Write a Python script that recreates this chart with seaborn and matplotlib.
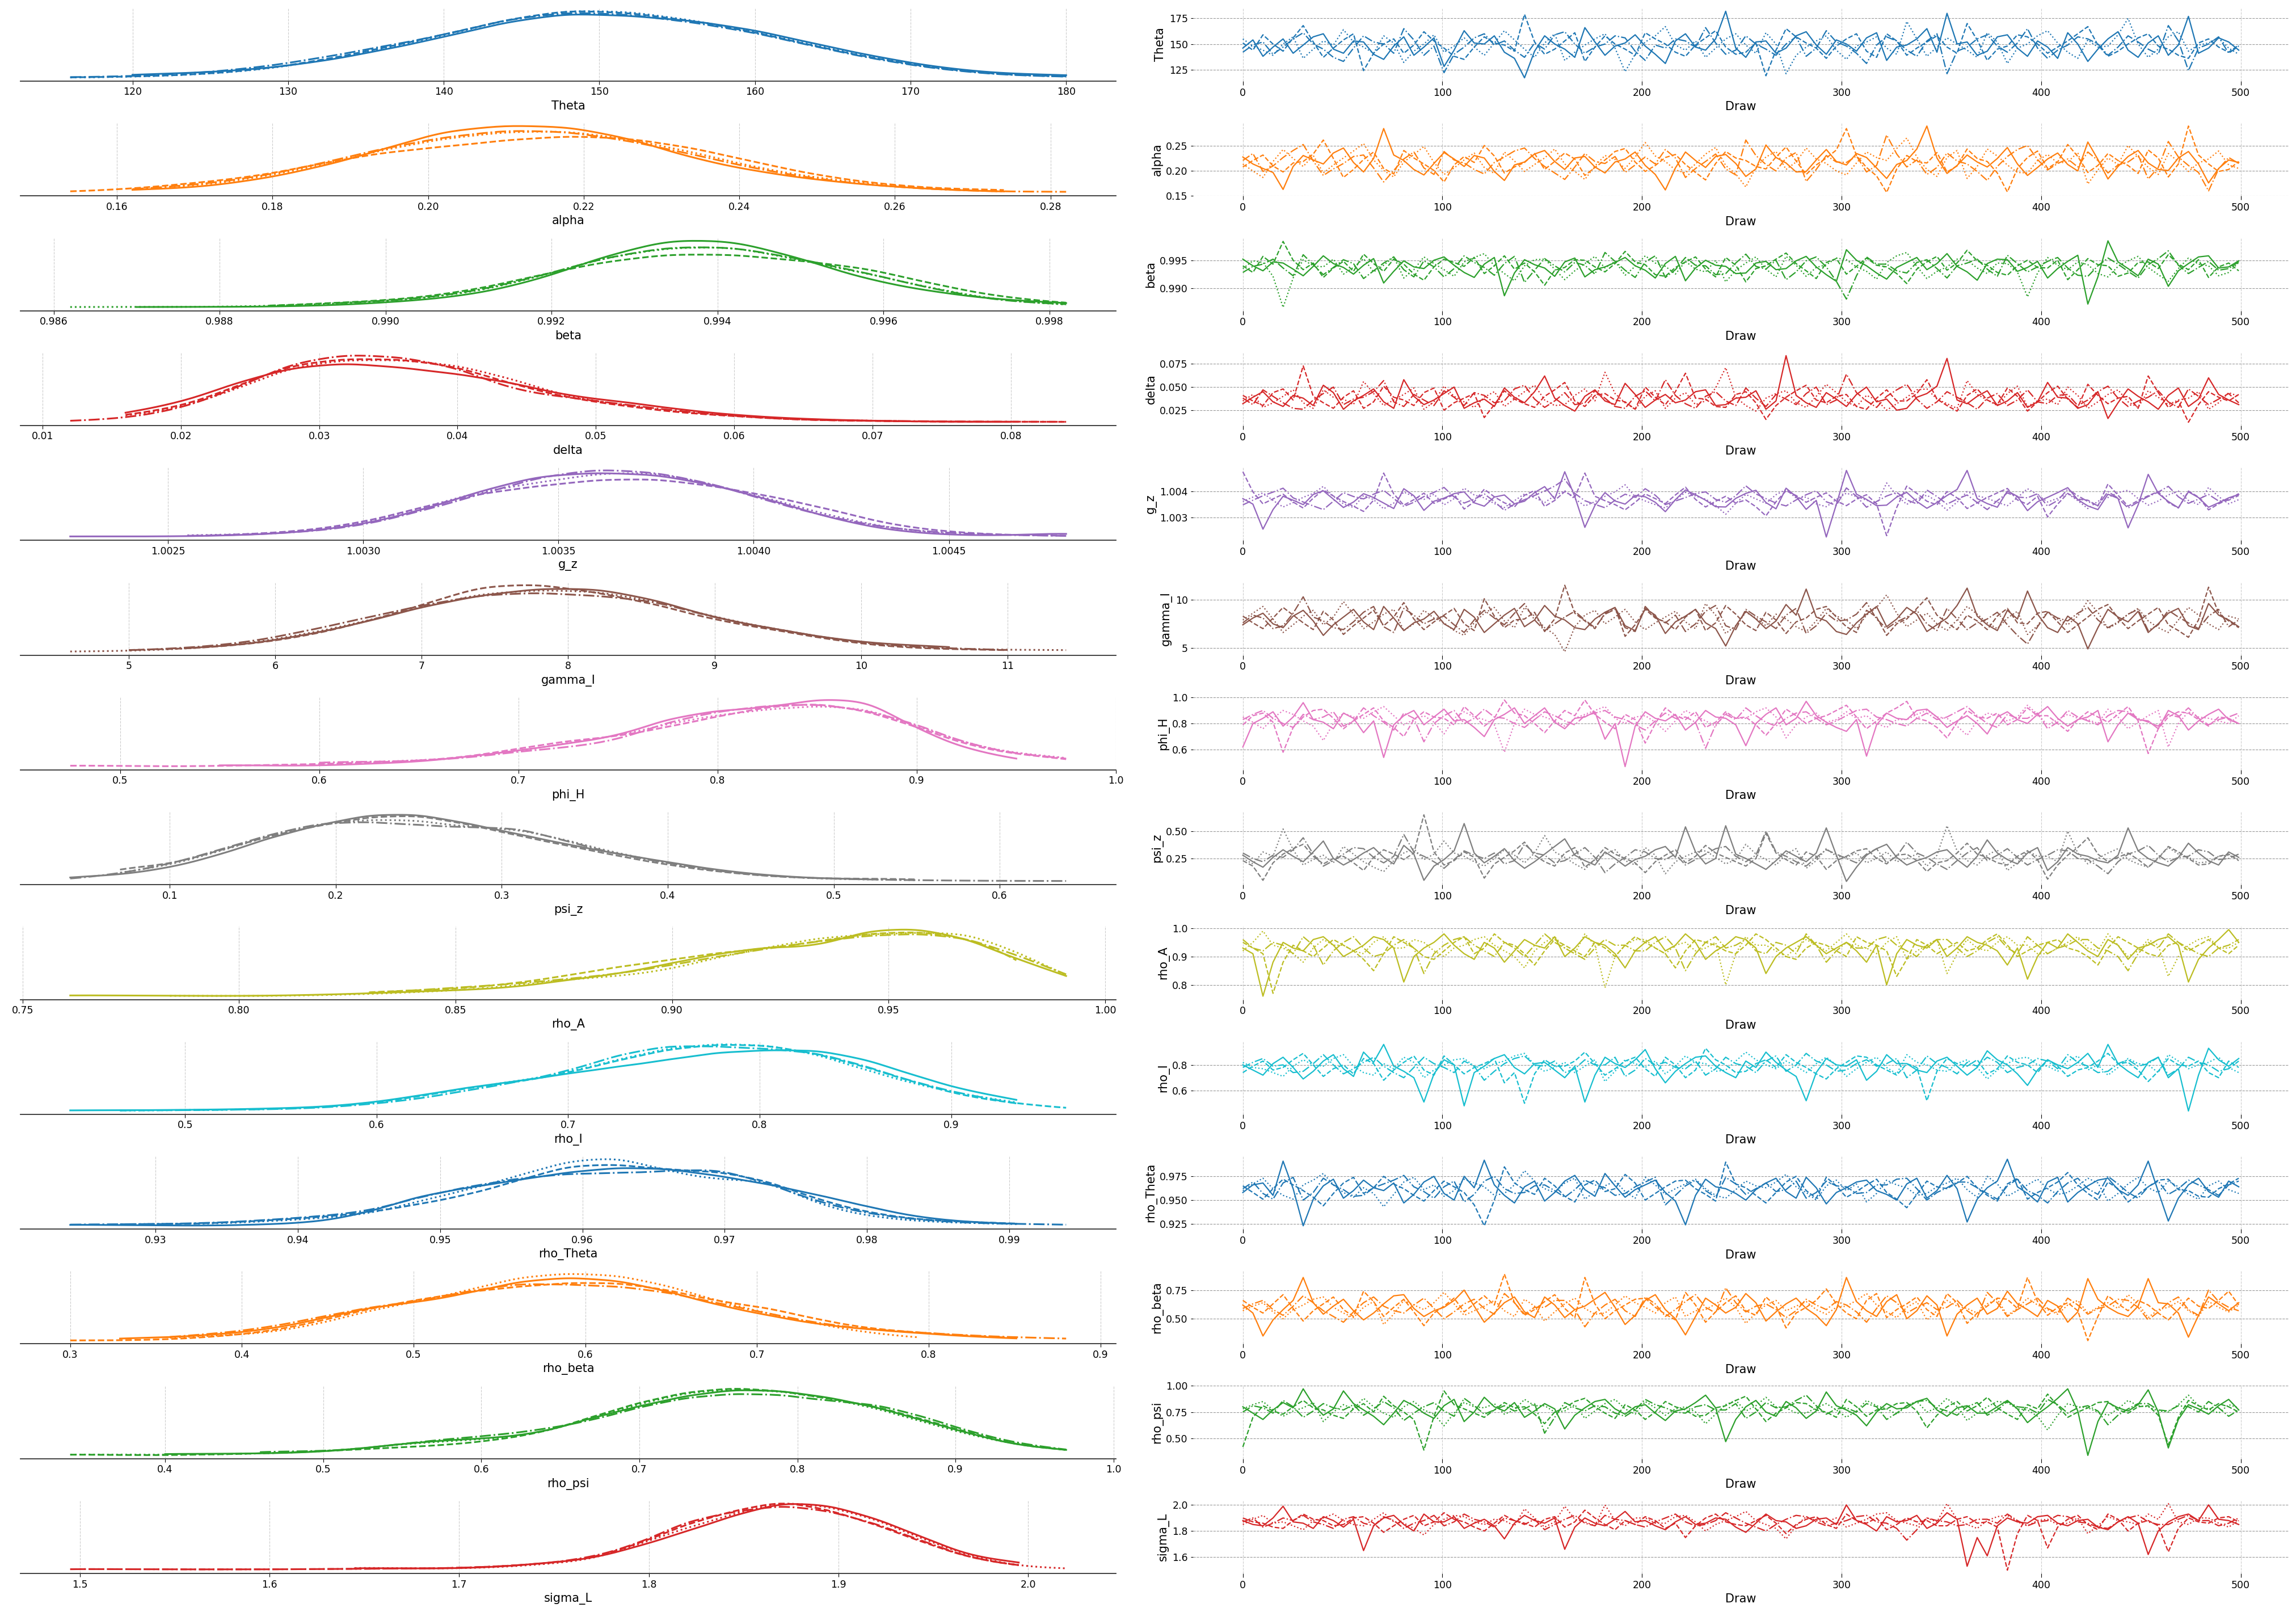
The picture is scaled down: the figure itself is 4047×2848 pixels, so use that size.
import numpy as np
import matplotlib
matplotlib.use("Agg")
import matplotlib.pyplot as plt
from matplotlib.ticker import MaxNLocator
import seaborn as sns

# --- Parameters (rows) and chain line styles ---
param_names = ["Theta", "alpha", "beta", "delta", "g_z", "gamma_I", "phi_H",
               "psi_z", "rho_A", "rho_I", "rho_Theta", "rho_beta", "rho_psi", "sigma_L"]
chain_styles = ["-", "--", ":", "-."]
draw_ticks = [0, 100, 200, 300, 400, 500]

# --- Y ticks of the trace panels ---
trace_yticks = [[125, 150, 175], [0.15, 0.20, 0.25], [0.990, 0.995], [0.025, 0.050, 0.075],
                [1.003, 1.004], [5, 10], [0.6, 0.8, 1.0], [0.25, 0.50], [0.8, 0.9, 1.0],
                [0.6, 0.8], [0.925, 0.950, 0.975], [0.50, 0.75], [0.50, 0.75, 1.00],
                [1.6, 1.8, 2.0]]

# --- KDE readings: grid of x values, relative density per chain (0 = chain not present) ---
theta_grid = [116, 120, 124, 128, 132, 136, 140, 144, 148, 152, 156, 160, 164, 168, 172, 176, 180]
theta_kde = [[0, 16, 24, 42, 78, 135, 200, 275, 320, 305, 282, 236, 165, 100, 48, 20, 14],
             [2, 6, 16, 40, 88, 152, 222, 300, 352, 335, 295, 236, 160, 95, 45, 15, 8],
             [1, 5, 16, 38, 84, 148, 215, 296, 346, 338, 293, 236, 162, 95, 45, 15, 6],
             [3, 8, 24, 52, 102, 162, 222, 305, 345, 330, 290, 236, 160, 92, 43, 14, 6]]

alpha_grid = [0.154, 0.162, 0.170, 0.178, 0.186, 0.194, 0.202, 0.210, 0.218, 0.226, 0.234,
              0.242, 0.250, 0.258, 0.266, 0.274, 0.282]
alpha_kde = [[0, 15, 25, 65, 130, 220, 320, 348, 342, 280, 175, 110, 65, 35, 15, 5, 0],
             [5, 20, 50, 85, 150, 210, 240, 275, 298, 285, 235, 160, 90, 45, 20, 15, 0],
             [0, 17, 35, 75, 140, 220, 280, 315, 320, 275, 210, 130, 75, 40, 17, 5, 0],
             [0, 17, 40, 80, 150, 230, 290, 328, 320, 270, 200, 125, 70, 35, 15, 5, 5]]

beta_grid = [0.9862, 0.9870, 0.9878, 0.9886, 0.9894, 0.9902, 0.9910, 0.9918, 0.9926, 0.9934,
             0.9942, 0.9950, 0.9958, 0.9966, 0.9974, 0.9982]
beta_kde = [[0, 2, 2, 3, 9, 24, 49, 109, 209, 284, 279, 204, 114, 64, 31, 19],
            [0, 0, 0, 7, 19, 34, 69, 134, 194, 229, 227, 199, 169, 99, 44, 19],
            [2, 2, 2, 6, 16, 31, 59, 124, 209, 254, 259, 199, 144, 79, 29, 11],
            [0, 0, 0, 0, 19, 31, 64, 129, 214, 264, 264, 209, 149, 79, 27, 14]]

delta_grid = [0.012, 0.016, 0.020, 0.024, 0.028, 0.032, 0.036, 0.040, 0.044, 0.048, 0.052,
              0.056, 0.060, 0.064, 0.068, 0.072, 0.076, 0.080, 0.084]
delta_kde = [[0, 42, 87, 177, 247, 267, 245, 217, 177, 117, 92, 57, 32, 17, 9, 4, 2, 2, 0],
             [0, 32, 67, 157, 257, 282, 279, 247, 167, 107, 72, 42, 27, 12, 7, 4, 2, 2, 2],
             [0, 30, 65, 150, 255, 287, 285, 262, 197, 115, 78, 45, 28, 14, 8, 6, 0, 0, 0],
             [5, 17, 57, 147, 257, 295, 282, 237, 137, 107, 77, 47, 27, 12, 7, 5, 3, 2, 2]]

g_z_grid = [1.00225, 1.00240, 1.00255, 1.00270, 1.00285, 1.00300, 1.00315, 1.00330, 1.00345,
            1.00360, 1.00375, 1.00390, 1.00405, 1.00420, 1.00435, 1.00450, 1.00465, 1.00480]
g_z_kde = [[3, 2, 3, 8, 21, 51, 111, 191, 256, 268, 261, 216, 151, 76, 26, 8, 6, 18],
           [0, 0, 4, 11, 26, 61, 126, 186, 216, 244, 248, 216, 171, 116, 51, 21, 8, 6],
           [0, 0, 8, 10, 24, 56, 121, 191, 226, 266, 271, 216, 156, 86, 36, 11, 0, 0],
           [0, 0, 5, 9, 21, 48, 111, 181, 256, 291, 276, 226, 146, 81, 36, 16, 8, 5]]

gamma_I_grid = [4.6, 5.0, 5.4, 5.8, 6.2, 6.6, 7.0, 7.4, 7.8, 8.2, 8.6, 9.0, 9.4, 9.8, 10.2,
                10.6, 11.0, 11.4]
gamma_I_kde = [[0, 0, 16, 31, 71, 126, 196, 246, 276, 276, 226, 146, 101, 56, 31, 23, 0, 0],
               [0, 8, 13, 31, 66, 126, 201, 286, 294, 256, 206, 136, 96, 51, 21, 11, 8, 0],
               [1, 4, 13, 34, 76, 131, 196, 256, 271, 266, 221, 151, 101, 56, 26, 14, 8, 9],
               [0, 6, 16, 38, 86, 141, 196, 241, 251, 236, 216, 141, 98, 54, 26, 14, 8, 0]]

phi_H_grid = [0.475, 0.500, 0.525, 0.550, 0.575, 0.600, 0.625, 0.650, 0.675, 0.700, 0.725,
              0.750, 0.775, 0.800, 0.825, 0.850, 0.875, 0.900, 0.925, 0.950, 0.975]
phi_H_kde = [[0, 0, 0, 7, 4, 4, 12, 20, 42, 67, 97, 127, 202, 236, 247, 284, 282, 157, 72, 32, 0],
             [5, 3, 1, 3, 7, 11, 18, 25, 43, 78, 113, 131, 173, 218, 261, 278, 243, 173, 93, 53, 35],
             [0, 0, 0, 0, 0, 20, 20, 28, 41, 68, 108, 138, 193, 233, 258, 275, 263, 183, 103, 58, 43],
             [0, 0, 0, 0, 0, 20, 20, 25, 38, 65, 83, 113, 193, 238, 263, 271, 243, 183, 98, 53, 38]]

psi_z_grid = [0.04, 0.07, 0.10, 0.13, 0.16, 0.19, 0.22, 0.25, 0.28, 0.31, 0.34, 0.37, 0.40,
              0.43, 0.46, 0.49, 0.52, 0.55, 0.58, 0.61, 0.64]
psi_z_kde = [[18, 28, 58, 113, 188, 243, 288, 290, 248, 203, 158, 118, 83, 48, 26, 13, 10, 0, 0, 0, 0],
             [0, 60, 73, 138, 203, 248, 288, 296, 253, 203, 158, 113, 73, 43, 23, 13, 12, 10, 0, 0, 0],
             [0, 38, 68, 128, 193, 243, 263, 260, 228, 223, 173, 118, 78, 43, 23, 12, 8, 6, 0, 0, 0],
             [10, 33, 73, 133, 198, 248, 253, 238, 228, 228, 168, 113, 78, 43, 23, 13, 8, 5, 3, 2, 2]]

rho_A_grid = [0.761, 0.7725, 0.784, 0.7955, 0.807, 0.8185, 0.830, 0.8415, 0.853, 0.8645, 0.876,
              0.8875, 0.899, 0.9105, 0.922, 0.9335, 0.945, 0.9565, 0.968, 0.9795, 0.991]
rho_A_kde = [[4, 3, 2, 1, 2, 6, 12, 20, 27, 40, 70, 95, 138, 182, 212, 210, 284, 292, 249, 158, 90],
             [0, 0, 0, 0, 0, 0, 18, 24, 34, 55, 86, 122, 148, 180, 198, 226, 260, 269, 244, 162, 0],
             [0, 0, 2, 1, 1, 4, 9, 17, 27, 45, 70, 82, 108, 160, 200, 240, 255, 262, 262, 184, 86],
             [0, 0, 0, 0, 0, 0, 14, 26, 40, 54, 74, 96, 130, 170, 204, 234, 260, 269, 252, 176, 96]]

rho_I_grid = [0.440, 0.466, 0.492, 0.518, 0.544, 0.570, 0.596, 0.622, 0.648, 0.674, 0.700,
              0.726, 0.752, 0.778, 0.804, 0.830, 0.856, 0.882, 0.908, 0.934, 0.960]
rho_I_kde = [[3, 3, 4, 6, 10, 16, 33, 63, 98, 123, 155, 183, 211, 243, 251, 253, 213, 143, 83, 48, 0],
             [0, 3, 3, 5, 8, 15, 33, 63, 103, 128, 168, 223, 273, 295, 291, 253, 193, 123, 63, 33, 13],
             [0, 3, 3, 5, 8, 15, 33, 63, 100, 128, 165, 220, 270, 288, 283, 243, 173, 113, 68, 38, 0],
             [0, 3, 3, 5, 7, 13, 28, 51, 88, 123, 168, 238, 278, 273, 263, 248, 188, 118, 68, 31, 0]]

rho_Theta_grid = [0.9240, 0.9275, 0.9310, 0.9345, 0.9380, 0.9415, 0.9450, 0.9485, 0.9520,
                  0.9555, 0.9590, 0.9625, 0.9660, 0.9695, 0.9730, 0.9765, 0.9800, 0.9835,
                  0.9870, 0.9905, 0.9940]
rho_Theta_kde = [[5, 3, 1, 1, 6, 16, 56, 126, 161, 193, 226, 246, 241, 211, 176, 131, 81, 36, 16, 8, 0],
                 [0, 8, 6, 12, 23, 36, 56, 91, 131, 191, 256, 261, 236, 231, 191, 111, 56, 26, 16, 10, 0],
                 [0, 6, 8, 10, 20, 32, 50, 106, 156, 216, 281, 298, 236, 196, 201, 91, 41, 20, 12, 8, 0],
                 [6, 6, 8, 13, 25, 40, 61, 121, 166, 201, 221, 223, 231, 243, 181, 101, 51, 26, 12, 8, 5]]

rho_beta_grid = [0.300, 0.329, 0.358, 0.387, 0.416, 0.445, 0.474, 0.503, 0.532, 0.561, 0.590,
                 0.619, 0.648, 0.677, 0.706, 0.735, 0.764, 0.793, 0.822, 0.851, 0.880]
rho_beta_kde = [[0, 11, 16, 31, 56, 106, 166, 191, 236, 296, 316, 301, 246, 176, 126, 81, 56, 38, 21, 11, 0],
                [1, 1, 6, 21, 46, 96, 161, 206, 246, 271, 291, 291, 256, 196, 166, 106, 61, 41, 24, 14, 0],
                [0, 0, 16, 26, 41, 86, 156, 206, 261, 331, 351, 341, 286, 206, 141, 86, 41, 16, 0, 0, 0],
                [0, 0, 18, 36, 66, 116, 166, 196, 246, 286, 278, 271, 241, 186, 136, 86, 56, 41, 26, 16, 11]]

rho_psi_grid = [0.34, 0.37, 0.40, 0.43, 0.46, 0.49, 0.52, 0.55, 0.58, 0.61, 0.64, 0.67, 0.70,
                0.73, 0.76, 0.79, 0.82, 0.85, 0.88, 0.91, 0.94, 0.97]
rho_psi_kde = [[0, 0, 8, 8, 10, 15, 32, 60, 80, 90, 120, 195, 255, 310, 342, 335, 300, 250, 180, 110, 50, 30],
               [5, 2, 1, 5, 10, 18, 30, 42, 55, 80, 120, 200, 275, 330, 352, 335, 295, 255, 185, 115, 50, 30],
               [5, 4, 3, 5, 10, 18, 32, 60, 75, 90, 120, 200, 270, 332, 350, 338, 300, 248, 175, 105, 55, 30],
               [0, 0, 0, 0, 20, 20, 30, 60, 85, 105, 135, 180, 250, 300, 320, 315, 280, 265, 200, 120, 60, 30]]

sigma_L_grid = [1.495, 1.520, 1.545, 1.570, 1.595, 1.620, 1.645, 1.670, 1.695, 1.720, 1.745,
                1.770, 1.795, 1.820, 1.845, 1.870, 1.895, 1.920, 1.945, 1.970, 1.995, 2.020]
sigma_L_kde = [[0, 0, 0, 0, 0, 0, 11, 8, 8, 15, 33, 53, 113, 183, 258, 321, 308, 243, 153, 63, 38, 0],
               [6, 5, 4, 4, 4, 5, 7, 8, 10, 18, 33, 58, 133, 233, 298, 351, 303, 228, 138, 58, 23, 0],
               [0, 0, 0, 0, 0, 0, 13, 8, 8, 13, 28, 48, 123, 198, 263, 323, 298, 238, 143, 63, 18, 8],
               [6, 5, 4, 4, 4, 5, 7, 8, 10, 18, 33, 63, 133, 248, 293, 328, 298, 233, 143, 58, 23, 0]]

# --- Trace readings: values per chain, read at evenly spaced draws over 0..499 ---
theta_trace = [
    [146, 154, 138, 147, 155, 141, 149, 157, 160, 145, 141, 153, 152, 140, 135, 148, 157, 139, 147, 156, 128, 144, 163, 151, 150, 158, 142, 136, 117, 143, 158, 150, 145, 137, 166, 152, 139, 148, 151, 159, 148, 140, 131, 153, 160, 147, 144, 155, 182, 146, 137, 152, 153, 141, 146, 158, 162, 149, 140, 154, 150, 143, 156, 161, 134, 147, 149, 155, 165, 142, 180, 150, 152, 139, 143, 157, 159, 146, 138, 153, 147, 136, 161, 150, 133, 145, 155, 162, 144, 137, 151, 158, 139, 149, 177, 141, 146, 156, 152, 144],
    [151, 144, 159, 150, 143, 156, 168, 152, 137, 146, 154, 160, 124, 141, 150, 155, 141, 149, 162, 153, 146, 138, 135, 147, 157, 151, 149, 143, 179, 152, 140, 145, 153, 161, 133, 147, 158, 150, 145, 139, 161, 155, 150, 142, 138, 149, 156, 163, 147, 140, 142, 151, 119, 144, 165, 157, 151, 146, 136, 148, 155, 160, 143, 137, 160, 153, 139, 146, 152, 158, 147, 141, 170, 154, 134, 145, 148, 159, 157, 150, 141, 147, 153, 160, 167, 149, 138, 143, 150, 156, 160, 148, 145, 139, 136, 151, 155, 147, 142, 149],
    [155, 148, 144, 139, 150, 157, 136, 145, 153, 149, 164, 152, 147, 141, 158, 151, 132, 143, 150, 159, 142, 148, 156, 147, 139, 151, 163, 154, 145, 137, 151, 160, 134, 142, 149, 155, 160, 146, 123, 140, 152, 158, 167, 149, 144, 153, 137, 146, 155, 160, 149, 141, 161, 150, 121, 139, 147, 153, 158, 144, 135, 148, 152, 157, 146, 140, 172, 155, 138, 147, 156, 150, 144, 137, 161, 152, 131, 146, 150, 158, 163, 151, 142, 136, 154, 147, 148, 159, 175, 150, 137, 145, 157, 162, 143, 149, 151, 156, 146, 140],
    [142, 149, 152, 140, 147, 155, 161, 150, 145, 137, 133, 146, 158, 152, 150, 141, 165, 154, 139, 148, 122, 140, 147, 156, 160, 149, 153, 144, 137, 151, 145, 159, 162, 150, 141, 147, 150, 158, 156, 143, 134, 149, 146, 155, 153, 147, 166, 151, 140, 144, 158, 150, 145, 139, 150, 157, 138, 146, 163, 152, 148, 141, 131, 149, 157, 153, 144, 138, 153, 160, 121, 143, 147, 155, 159, 148, 142, 151, 165, 146, 136, 144, 149, 157, 155, 150, 139, 147, 158, 152, 145, 140, 168, 153, 124, 146, 150, 157, 141, 148]]

alpha_trace = [
    [0.228, 0.214, 0.205, 0.197, 0.163, 0.209, 0.231, 0.222, 0.214, 0.236, 0.246, 0.217, 0.198, 0.225, 0.285, 0.232, 0.221, 0.203, 0.192, 0.215, 0.237, 0.224, 0.209, 0.231, 0.226, 0.199, 0.181, 0.212, 0.218, 0.234, 0.241, 0.219, 0.203, 0.226, 0.229, 0.208, 0.196, 0.218, 0.224, 0.238, 0.211, 0.193, 0.162, 0.206, 0.238, 0.221, 0.207, 0.229, 0.233, 0.215, 0.189, 0.204, 0.252, 0.227, 0.216, 0.198, 0.199, 0.222, 0.243, 0.219, 0.212, 0.235, 0.227, 0.206, 0.185, 0.213, 0.221, 0.244, 0.290, 0.226, 0.195, 0.211, 0.232, 0.218, 0.208, 0.225, 0.247, 0.214, 0.191, 0.207, 0.224, 0.236, 0.213, 0.200, 0.258, 0.223, 0.184, 0.209, 0.229, 0.241, 0.216, 0.203, 0.201, 0.226, 0.239, 0.214, 0.176, 0.205, 0.222, 0.217],
    [0.208, 0.221, 0.232, 0.210, 0.198, 0.216, 0.219, 0.234, 0.262, 0.225, 0.187, 0.203, 0.223, 0.238, 0.205, 0.194, 0.241, 0.226, 0.214, 0.201, 0.178, 0.212, 0.229, 0.217, 0.251, 0.230, 0.196, 0.208, 0.217, 0.235, 0.203, 0.219, 0.236, 0.224, 0.191, 0.207, 0.222, 0.239, 0.245, 0.218, 0.199, 0.211, 0.227, 0.233, 0.213, 0.197, 0.182, 0.215, 0.239, 0.226, 0.221, 0.209, 0.204, 0.228, 0.248, 0.220, 0.193, 0.212, 0.226, 0.242, 0.285, 0.231, 0.207, 0.190, 0.157, 0.204, 0.231, 0.219, 0.216, 0.237, 0.198, 0.210, 0.244, 0.225, 0.219, 0.196, 0.158, 0.205, 0.227, 0.240, 0.205, 0.218, 0.253, 0.229, 0.197, 0.211, 0.235, 0.221, 0.211, 0.195, 0.242, 0.226, 0.188, 0.214, 0.290, 0.232, 0.214, 0.199, 0.203, 0.219],
    [0.214, 0.200, 0.187, 0.219, 0.243, 0.225, 0.209, 0.231, 0.196, 0.212, 0.226, 0.240, 0.255, 0.222, 0.201, 0.188, 0.218, 0.233, 0.249, 0.217, 0.193, 0.206, 0.222, 0.236, 0.207, 0.195, 0.238, 0.220, 0.199, 0.213, 0.226, 0.244, 0.214, 0.199, 0.183, 0.210, 0.231, 0.223, 0.205, 0.228, 0.257, 0.230, 0.219, 0.202, 0.196, 0.214, 0.234, 0.247, 0.211, 0.194, 0.168, 0.207, 0.228, 0.239, 0.203, 0.218, 0.246, 0.224, 0.215, 0.200, 0.192, 0.216, 0.238, 0.227, 0.221, 0.245, 0.266, 0.228, 0.203, 0.189, 0.227, 0.241, 0.185, 0.209, 0.244, 0.230, 0.212, 0.197, 0.196, 0.221, 0.233, 0.216, 0.218, 0.237, 0.174, 0.202, 0.226, 0.213, 0.251, 0.229, 0.207, 0.193, 0.235, 0.219, 0.199, 0.216, 0.224, 0.240, 0.212, 0.205],
    [0.221, 0.235, 0.199, 0.210, 0.227, 0.241, 0.253, 0.220, 0.191, 0.204, 0.215, 0.229, 0.232, 0.206, 0.178, 0.201, 0.224, 0.238, 0.206, 0.193, 0.239, 0.222, 0.216, 0.203, 0.194, 0.217, 0.228, 0.240, 0.246, 0.225, 0.209, 0.196, 0.183, 0.208, 0.235, 0.219, 0.215, 0.229, 0.197, 0.212, 0.228, 0.214, 0.243, 0.226, 0.187, 0.205, 0.219, 0.234, 0.204, 0.192, 0.262, 0.231, 0.213, 0.200, 0.226, 0.237, 0.179, 0.203, 0.231, 0.218, 0.217, 0.230, 0.198, 0.211, 0.272, 0.234, 0.208, 0.222, 0.193, 0.207, 0.236, 0.220, 0.214, 0.199, 0.181, 0.209, 0.229, 0.243, 0.251, 0.223, 0.202, 0.215, 0.224, 0.208, 0.238, 0.221, 0.196, 0.212, 0.218, 0.232, 0.184, 0.207, 0.259, 0.228, 0.211, 0.197, 0.160, 0.204, 0.227, 0.215]]

beta_trace = [
    [0.9952, 0.9940, 0.9931, 0.9947, 0.9945, 0.9934, 0.9922, 0.9939, 0.9958, 0.9944, 0.9937, 0.9925, 0.9941, 0.9953, 0.9909, 0.9930, 0.9949, 0.9938, 0.9935, 0.9950, 0.9956, 0.9941, 0.9928, 0.9919, 0.9943, 0.9955, 0.9886, 0.9927, 0.9951, 0.9942, 0.9936, 0.9921, 0.9947, 0.9954, 0.9920, 0.9933, 0.9938, 0.9946, 0.9955, 0.9940, 0.9932, 0.9918, 0.9944, 0.9957, 0.9913, 0.9936, 0.9950, 0.9941, 0.9939, 0.9926, 0.9927, 0.9945, 0.9948, 0.9933, 0.9935, 0.9949, 0.9957, 0.9938, 0.9924, 0.9912, 0.9969, 0.9950, 0.9940, 0.9927, 0.9916, 0.9937, 0.9946, 0.9955, 0.9933, 0.9944, 0.9962, 0.9939, 0.9929, 0.9914, 0.9944, 0.9952, 0.9951, 0.9930, 0.9937, 0.9948, 0.9918, 0.9935, 0.9948, 0.9959, 0.9871, 0.9920, 0.9985, 0.9947, 0.9935, 0.9922, 0.9952, 0.9943, 0.9903, 0.9931, 0.9944, 0.9956, 0.9958, 0.9936, 0.9938, 0.9949],
    [0.9940, 0.9928, 0.9957, 0.9943, 0.9984, 0.9950, 0.9933, 0.9945, 0.9919, 0.9936, 0.9948, 0.9930, 0.9961, 0.9944, 0.9930, 0.9952, 0.9943, 0.9925, 0.9914, 0.9938, 0.9952, 0.9946, 0.9939, 0.9955, 0.9926, 0.9940, 0.9958, 0.9934, 0.9945, 0.9929, 0.9905, 0.9932, 0.9937, 0.9951, 0.9950, 0.9938, 0.9929, 0.9944, 0.9966, 0.9947, 0.9942, 0.9924, 0.9921, 0.9937, 0.9947, 0.9956, 0.9934, 0.9920, 0.9955, 0.9941, 0.9911, 0.9935, 0.9940, 0.9952, 0.9963, 0.9944, 0.9931, 0.9917, 0.9946, 0.9953, 0.9925, 0.9939, 0.9954, 0.9941, 0.9938, 0.9926, 0.9908, 0.9934, 0.9947, 0.9957, 0.9932, 0.9945, 0.9968, 0.9949, 0.9941, 0.9928, 0.9923, 0.9940, 0.9950, 0.9937, 0.9936, 0.9950, 0.9915, 0.9933, 0.9953, 0.9942, 0.9940, 0.9921, 0.9927, 0.9946, 0.9947, 0.9935, 0.9960, 0.9943, 0.9933, 0.9951, 0.9919, 0.9938, 0.9945, 0.9931],
    [0.9935, 0.9949, 0.9946, 0.9921, 0.9865, 0.9918, 0.9951, 0.9940, 0.9938, 0.9952, 0.9925, 0.9937, 0.9953, 0.9929, 0.9941, 0.9956, 0.9918, 0.9933, 0.9956, 0.9944, 0.9933, 0.9921, 0.9947, 0.9955, 0.9962, 0.9940, 0.9926, 0.9913, 0.9940, 0.9951, 0.9952, 0.9934, 0.9915, 0.9931, 0.9944, 0.9957, 0.9936, 0.9948, 0.9923, 0.9939, 0.9958, 0.9945, 0.9939, 0.9925, 0.9948, 0.9934, 0.9929, 0.9950, 0.9911, 0.9932, 0.9945, 0.9956, 0.9934, 0.9920, 0.9957, 0.9941, 0.9921, 0.9937, 0.9942, 0.9954, 0.9951, 0.9938, 0.9930, 0.9916, 0.9946, 0.9958, 0.9964, 0.9939, 0.9917, 0.9930, 0.9938, 0.9952, 0.9950, 0.9936, 0.9926, 0.9945, 0.9944, 0.9929, 0.9884, 0.9927, 0.9955, 0.9941, 0.9933, 0.9947, 0.9942, 0.9926, 0.9920, 0.9939, 0.9949, 0.9957, 0.9937, 0.9924, 0.9912, 0.9935, 0.9954, 0.9943, 0.9940, 0.9922, 0.9928, 0.9946],
    [0.9928, 0.9939, 0.9943, 0.9952, 0.9936, 0.9922, 0.9960, 0.9942, 0.9924, 0.9937, 0.9951, 0.9944, 0.9917, 0.9931, 0.9945, 0.9956, 0.9933, 0.9920, 0.9949, 0.9938, 0.9920, 0.9935, 0.9958, 0.9946, 0.9937, 0.9923, 0.9944, 0.9957, 0.9910, 0.9932, 0.9953, 0.9940, 0.9929, 0.9946, 0.9941, 0.9925, 0.9964, 0.9948, 0.9932, 0.9919, 0.9947, 0.9958, 0.9919, 0.9933, 0.9955, 0.9941, 0.9940, 0.9924, 0.9926, 0.9945, 0.9961, 0.9939, 0.9934, 0.9950, 0.9915, 0.9929, 0.9949, 0.9956, 0.9938, 0.9912, 0.9880, 0.9922, 0.9956, 0.9943, 0.9943, 0.9931, 0.9927, 0.9946, 0.9951, 0.9935, 0.9918, 0.9940, 0.9945, 0.9952, 0.9934, 0.9921, 0.9959, 0.9944, 0.9929, 0.9938, 0.9948, 0.9955, 0.9936, 0.9923, 0.9921, 0.9940, 0.9954, 0.9943, 0.9930, 0.9918, 0.9942, 0.9953, 0.9967, 0.9941, 0.9926, 0.9937, 0.9948, 0.9932, 0.9935, 0.9947]]

delta_trace = [
    [0.032, 0.039, 0.045, 0.034, 0.029, 0.041, 0.038, 0.030, 0.052, 0.044, 0.026, 0.035, 0.041, 0.048, 0.034, 0.027, 0.058, 0.040, 0.031, 0.036, 0.043, 0.050, 0.027, 0.033, 0.037, 0.029, 0.049, 0.039, 0.033, 0.045, 0.062, 0.038, 0.030, 0.024, 0.040, 0.047, 0.035, 0.031, 0.054, 0.042, 0.028, 0.036, 0.042, 0.033, 0.036, 0.045, 0.047, 0.030, 0.031, 0.038, 0.039, 0.046, 0.026, 0.035, 0.084, 0.041, 0.033, 0.028, 0.044, 0.037, 0.029, 0.042, 0.050, 0.034, 0.037, 0.025, 0.027, 0.039, 0.043, 0.051, 0.081, 0.036, 0.032, 0.040, 0.046, 0.030, 0.035, 0.044, 0.028, 0.034, 0.055, 0.039, 0.038, 0.027, 0.031, 0.045, 0.016, 0.033, 0.048, 0.040, 0.034, 0.026, 0.041, 0.049, 0.029, 0.037, 0.060, 0.042, 0.036, 0.031],
    [0.041, 0.035, 0.030, 0.044, 0.048, 0.036, 0.073, 0.040, 0.033, 0.027, 0.039, 0.046, 0.027, 0.034, 0.051, 0.039, 0.036, 0.030, 0.044, 0.049, 0.025, 0.033, 0.038, 0.043, 0.017, 0.031, 0.046, 0.037, 0.032, 0.028, 0.040, 0.047, 0.055, 0.035, 0.029, 0.041, 0.043, 0.036, 0.034, 0.026, 0.050, 0.039, 0.031, 0.045, 0.065, 0.038, 0.037, 0.029, 0.028, 0.042, 0.045, 0.033, 0.015, 0.030, 0.039, 0.046, 0.052, 0.036, 0.033, 0.040, 0.042, 0.029, 0.026, 0.038, 0.047, 0.035, 0.035, 0.043, 0.058, 0.037, 0.030, 0.024, 0.041, 0.048, 0.036, 0.031, 0.049, 0.040, 0.024, 0.034, 0.044, 0.051, 0.037, 0.028, 0.053, 0.041, 0.032, 0.038, 0.040, 0.027, 0.062, 0.044, 0.028, 0.035, 0.012, 0.031, 0.045, 0.039, 0.035, 0.042],
    [0.035, 0.042, 0.028, 0.033, 0.040, 0.047, 0.033, 0.027, 0.047, 0.039, 0.037, 0.031, 0.056, 0.043, 0.030, 0.036, 0.042, 0.049, 0.026, 0.034, 0.051, 0.040, 0.034, 0.028, 0.039, 0.045, 0.029, 0.037, 0.045, 0.052, 0.036, 0.030, 0.031, 0.041, 0.048, 0.035, 0.066, 0.043, 0.033, 0.026, 0.040, 0.046, 0.027, 0.038, 0.044, 0.031, 0.035, 0.049, 0.071, 0.039, 0.030, 0.024, 0.038, 0.043, 0.046, 0.033, 0.028, 0.040, 0.053, 0.044, 0.034, 0.029, 0.041, 0.036, 0.025, 0.032, 0.039, 0.047, 0.048, 0.037, 0.032, 0.027, 0.057, 0.042, 0.036, 0.030, 0.043, 0.051, 0.029, 0.035, 0.037, 0.031, 0.050, 0.041, 0.027, 0.034, 0.042, 0.047, 0.034, 0.028, 0.046, 0.039, 0.031, 0.036, 0.038, 0.045, 0.026, 0.033, 0.044, 0.040],
    [0.038, 0.031, 0.047, 0.040, 0.033, 0.027, 0.026, 0.036, 0.043, 0.050, 0.031, 0.037, 0.039, 0.045, 0.057, 0.034, 0.029, 0.042, 0.036, 0.030, 0.046, 0.039, 0.030, 0.044, 0.041, 0.033, 0.035, 0.048, 0.052, 0.037, 0.028, 0.035, 0.044, 0.031, 0.033, 0.046, 0.038, 0.029, 0.027, 0.040, 0.046, 0.035, 0.058, 0.041, 0.032, 0.027, 0.040, 0.045, 0.035, 0.030, 0.049, 0.038, 0.029, 0.042, 0.037, 0.031, 0.043, 0.050, 0.031, 0.036, 0.064, 0.044, 0.035, 0.028, 0.040, 0.047, 0.053, 0.037, 0.027, 0.034, 0.045, 0.039, 0.033, 0.026, 0.038, 0.043, 0.030, 0.036, 0.047, 0.034, 0.032, 0.041, 0.042, 0.030, 0.036, 0.045, 0.051, 0.038, 0.029, 0.035, 0.039, 0.046, 0.034, 0.028, 0.048, 0.040, 0.031, 0.037, 0.043, 0.033]]

g_z_trace = [
    [1.00372, 1.00351, 1.00255, 1.00330, 1.00381, 1.00366, 1.00349, 1.00388, 1.00402, 1.00370, 1.00338, 1.00359, 1.00391, 1.00376, 1.00355, 1.00334, 1.00410, 1.00383, 1.00327, 1.00362, 1.00374, 1.00391, 1.00398, 1.00356, 1.00343, 1.00378, 1.00386, 1.00352, 1.00362, 1.00395, 1.00418, 1.00371, 1.00475, 1.00380, 1.00262, 1.00346, 1.00395, 1.00363, 1.00351, 1.00384, 1.00379, 1.00358, 1.00322, 1.00368, 1.00405, 1.00387, 1.00366, 1.00341, 1.00340, 1.00373, 1.00392, 1.00404, 1.00357, 1.00333, 1.00412, 1.00380, 1.00331, 1.00365, 1.00225, 1.00350, 1.00480, 1.00389, 1.00369, 1.00345, 1.00347, 1.00378, 1.00396, 1.00361, 1.00335, 1.00357, 1.00384, 1.00407, 1.00480, 1.00372, 1.00353, 1.00339, 1.00401, 1.00381, 1.00326, 1.00360, 1.00377, 1.00395, 1.00414, 1.00368, 1.00344, 1.00330, 1.00389, 1.00373, 1.00260, 1.00348, 1.00465, 1.00392, 1.00361, 1.00337, 1.00398, 1.00376, 1.00339, 1.00356, 1.00375, 1.00388],
    [1.00475, 1.00398, 1.00352, 1.00371, 1.00389, 1.00359, 1.00336, 1.00374, 1.00405, 1.00382, 1.00361, 1.00343, 1.00323, 1.00366, 1.00470, 1.00390, 1.00347, 1.00368, 1.00393, 1.00354, 1.00371, 1.00387, 1.00332, 1.00360, 1.00408, 1.00379, 1.00356, 1.00340, 1.00385, 1.00403, 1.00342, 1.00365, 1.00399, 1.00377, 1.00470, 1.00381, 1.00364, 1.00349, 1.00329, 1.00358, 1.00390, 1.00372, 1.00353, 1.00386, 1.00416, 1.00369, 1.00340, 1.00362, 1.00381, 1.00355, 1.00367, 1.00341, 1.00306, 1.00360, 1.00402, 1.00384, 1.00358, 1.00377, 1.00394, 1.00363, 1.00345, 1.00370, 1.00387, 1.00352, 1.00230, 1.00338, 1.00420, 1.00392, 1.00362, 1.00348, 1.00399, 1.00375, 1.00334, 1.00356, 1.00376, 1.00394, 1.00411, 1.00367, 1.00350, 1.00381, 1.00302, 1.00351, 1.00392, 1.00370, 1.00366, 1.00344, 1.00428, 1.00385, 1.00343, 1.00365, 1.00383, 1.00399, 1.00357, 1.00336, 1.00401, 1.00378, 1.00329, 1.00352, 1.00370, 1.00391],
    [1.00361, 1.00378, 1.00394, 1.00365, 1.00340, 1.00357, 1.00377, 1.00392, 1.00419, 1.00381, 1.00352, 1.00338, 1.00384, 1.00368, 1.00333, 1.00355, 1.00397, 1.00380, 1.00369, 1.00389, 1.00348, 1.00372, 1.00412, 1.00386, 1.00375, 1.00353, 1.00338, 1.00364, 1.00390, 1.00376, 1.00357, 1.00383, 1.00402, 1.00371, 1.00344, 1.00360, 1.00381, 1.00398, 1.00425, 1.00379, 1.00363, 1.00349, 1.00336, 1.00367, 1.00396, 1.00382, 1.00370, 1.00346, 1.00312, 1.00354, 1.00388, 1.00371, 1.00354, 1.00387, 1.00407, 1.00374, 1.00378, 1.00352, 1.00341, 1.00369, 1.00393, 1.00380, 1.00366, 1.00351, 1.00432, 1.00384, 1.00350, 1.00371, 1.00385, 1.00362, 1.00328, 1.00358, 1.00399, 1.00383, 1.00373, 1.00358, 1.00345, 1.00376, 1.00410, 1.00387, 1.00359, 1.00373, 1.00391, 1.00364, 1.00334, 1.00362, 1.00376, 1.00395, 1.00404, 1.00372, 1.00347, 1.00363, 1.00386, 1.00401, 1.00365, 1.00349, 1.00415, 1.00380, 1.00352, 1.00368],
    [1.00348, 1.00366, 1.00383, 1.00397, 1.00412, 1.00375, 1.00359, 1.00344, 1.00330, 1.00362, 1.00395, 1.00380, 1.00371, 1.00389, 1.00404, 1.00373, 1.00342, 1.00358, 1.00380, 1.00396, 1.00415, 1.00378, 1.00355, 1.00370, 1.00390, 1.00361, 1.00327, 1.00351, 1.00368, 1.00384, 1.00401, 1.00420, 1.00446, 1.00392, 1.00364, 1.00350, 1.00337, 1.00366, 1.00389, 1.00377, 1.00410, 1.00385, 1.00349, 1.00363, 1.00376, 1.00391, 1.00398, 1.00369, 1.00358, 1.00383, 1.00421, 1.00390, 1.00372, 1.00355, 1.00344, 1.00367, 1.00387, 1.00402, 1.00360, 1.00346, 1.00413, 1.00381, 1.00339, 1.00361, 1.00382, 1.00396, 1.00367, 1.00352, 1.00405, 1.00380, 1.00351, 1.00370, 1.00386, 1.00357, 1.00330, 1.00364, 1.00394, 1.00378, 1.00375, 1.00391, 1.00343, 1.00365, 1.00408, 1.00383, 1.00361, 1.00345, 1.00399, 1.00374, 1.00336, 1.00359, 1.00380, 1.00397, 1.00419, 1.00379, 1.00354, 1.00370, 1.00388, 1.00363, 1.00366, 1.00384]]

gamma_I_trace = [
    [7.4, 8.1, 8.6, 7.5, 7.1, 8.3, 8.9, 7.8, 6.3, 7.4, 8.2, 9.0, 7.7, 6.9, 9.3, 8.1, 6.8, 7.6, 8.0, 8.8, 7.5, 6.9, 9.0, 8.2, 6.6, 7.5, 8.4, 9.1, 7.2, 7.9, 9.4, 8.3, 7.9, 7.1, 6.9, 8.0, 8.7, 9.2, 7.3, 6.8, 9.1, 8.4, 6.5, 7.7, 8.3, 9.0, 7.6, 7.0, 5.2, 7.3, 8.8, 8.0, 7.0, 7.8, 9.5, 8.4, 11.1, 8.2, 7.8, 6.7, 6.4, 7.6, 8.5, 9.3, 7.2, 8.0, 9.2, 8.5, 6.7, 7.4, 8.1, 9.4, 11.2, 8.3, 7.4, 6.8, 8.9, 8.0, 10.9, 8.5, 7.1, 6.6, 8.3, 7.5, 4.9, 7.1, 9.0, 8.2, 7.7, 8.8, 6.6, 7.5, 8.6, 9.1, 7.3, 6.9, 9.6, 8.4, 7.9, 7.2],
    [8.3, 7.6, 7.0, 8.1, 9.2, 8.4, 7.6, 6.9, 8.8, 7.9, 6.4, 7.3, 8.1, 8.9, 7.3, 8.2, 9.7, 8.0, 6.9, 7.7, 8.4, 9.1, 7.5, 6.8, 10.1, 8.3, 7.1, 7.9, 8.0, 8.7, 6.7, 8.0, 11.5, 8.6, 7.8, 7.0, 8.6, 9.2, 6.2, 7.4, 9.0, 8.1, 7.7, 6.9, 8.2, 9.0, 6.8, 7.6, 9.4, 8.5, 7.4, 6.8, 8.7, 7.9, 6.5, 7.7, 8.1, 9.0, 9.3, 8.2, 7.2, 6.6, 8.9, 8.2, 6.3, 7.5, 8.0, 9.1, 10.2, 8.4, 7.6, 6.9, 8.4, 7.8, 6.9, 8.3, 9.1, 7.6, 7.5, 8.6, 8.8, 7.7, 6.6, 7.4, 8.2, 9.0, 9.5, 8.1, 7.0, 7.8, 8.5, 9.2, 7.4, 6.8, 6.1, 7.9, 11.3, 8.6, 7.8, 7.1],
    [7.9, 8.6, 9.3, 8.0, 6.6, 7.4, 8.3, 8.9, 7.4, 8.2, 9.8, 8.5, 7.0, 7.7, 8.5, 9.0, 6.8, 7.5, 8.9, 8.1, 7.6, 6.8, 6.3, 7.6, 8.6, 9.2, 7.8, 7.1, 9.2, 8.3, 7.1, 6.4, 4.6, 7.2, 8.4, 8.9, 7.5, 8.2, 9.0, 7.7, 6.9, 7.6, 8.2, 8.8, 7.7, 7.0, 9.6, 8.4, 6.5, 7.3, 8.7, 8.1, 7.3, 8.5, 8.0, 7.2, 6.7, 7.8, 9.1, 8.3, 7.9, 7.0, 8.4, 9.2, 10.5, 8.6, 7.2, 7.9, 8.6, 7.5, 6.8, 7.9, 9.3, 8.5, 7.6, 7.0, 8.1, 8.8, 6.4, 7.3, 8.8, 8.0, 7.4, 8.3, 9.9, 8.7, 7.0, 7.6, 8.5, 9.1, 7.8, 7.1, 6.6, 7.9, 9.2, 8.4, 7.5, 6.9, 8.3, 8.0],
    [7.6, 8.4, 8.1, 7.0, 7.3, 8.6, 10.3, 8.2, 7.8, 7.1, 6.9, 7.7, 8.7, 9.3, 7.2, 6.6, 9.1, 8.4, 7.5, 8.0, 8.3, 7.4, 6.6, 7.9, 8.9, 8.1, 7.4, 8.6, 9.6, 7.9, 6.8, 7.5, 8.2, 8.8, 7.9, 7.1, 8.5, 9.0, 7.1, 6.7, 9.3, 8.2, 7.6, 8.4, 6.7, 7.5, 8.8, 9.4, 7.3, 6.9, 9.0, 8.3, 7.7, 7.0, 8.4, 9.1, 6.5, 7.3, 8.6, 7.8, 7.9, 8.5, 9.7, 8.0, 7.0, 7.7, 8.2, 8.9, 7.5, 6.8, 9.1, 8.0, 6.9, 7.6, 8.0, 8.7, 7.4, 6.3, 5.4, 7.2, 8.7, 8.1, 7.8, 8.6, 9.2, 7.9, 7.1, 7.7, 8.5, 9.0, 6.8, 7.4, 8.9, 8.2, 7.6, 7.0, 8.3, 9.0, 7.2, 7.9]]

phi_H_trace = [
    [0.62, 0.80, 0.84, 0.89, 0.78, 0.85, 0.96, 0.83, 0.81, 0.76, 0.88, 0.84, 0.73, 0.82, 0.54, 0.79, 0.86, 0.90, 0.79, 0.85, 0.91, 0.82, 0.83, 0.77, 0.70, 0.83, 0.87, 0.92, 0.80, 0.86, 0.92, 0.81, 0.76, 0.84, 0.85, 0.89, 0.68, 0.80, 0.47, 0.78, 0.89, 0.84, 0.82, 0.87, 0.75, 0.81, 0.90, 0.85, 0.84, 0.79, 0.63, 0.80, 0.87, 0.92, 0.79, 0.84, 0.97, 0.86, 0.81, 0.77, 0.74, 0.83, 0.55, 0.79, 0.88, 0.84, 0.83, 0.90, 0.91, 0.85, 0.77, 0.82, 0.86, 0.80, 0.72, 0.85, 0.89, 0.83, 0.80, 0.87, 0.93, 0.84, 0.78, 0.83, 0.85, 0.90, 0.66, 0.79, 0.88, 0.83, 0.82, 0.76, 0.90, 0.86, 0.75, 0.82, 0.87, 0.91, 0.83, 0.80],
    [0.79, 0.86, 0.88, 0.81, 0.58, 0.77, 0.85, 0.90, 0.91, 0.84, 0.76, 0.82, 0.87, 0.92, 0.82, 0.77, 0.70, 0.83, 0.89, 0.85, 0.84, 0.79, 0.93, 0.86, 0.78, 0.84, 0.98, 0.88, 0.86, 0.80, 0.73, 0.82, 0.90, 0.86, 0.98, 0.87, 0.81, 0.76, 0.87, 0.83, 0.65, 0.80, 0.92, 0.86, 0.83, 0.89, 0.77, 0.81, 0.89, 0.84, 0.85, 0.79, 0.71, 0.80, 0.91, 0.86, 0.80, 0.84, 0.86, 0.90, 0.94, 0.85, 0.76, 0.82, 0.88, 0.92, 0.97, 0.84, 0.82, 0.77, 0.69, 0.81, 0.90, 0.85, 0.84, 0.88, 0.79, 0.83, 0.92, 0.86, 0.86, 0.80, 0.74, 0.83, 0.89, 0.85, 0.81, 0.87, 0.93, 0.82, 0.57, 0.76, 0.85, 0.89, 0.88, 0.83, 0.78, 0.85, 0.84, 0.80],
    [0.85, 0.81, 0.76, 0.84, 0.90, 0.87, 0.82, 0.78, 0.67, 0.80, 0.88, 0.85, 0.84, 0.89, 0.93, 0.86, 0.79, 0.83, 0.86, 0.81, 0.72, 0.84, 0.89, 0.85, 0.83, 0.79, 0.58, 0.80, 0.91, 0.87, 0.85, 0.82, 0.78, 0.84, 0.87, 0.90, 0.93, 0.84, 0.80, 0.85, 0.86, 0.81, 0.74, 0.82, 0.90, 0.86, 0.82, 0.78, 0.88, 0.84, 0.84, 0.89, 0.92, 0.85, 0.69, 0.79, 0.85, 0.88, 0.81, 0.83, 0.89, 0.84, 0.86, 0.80, 0.77, 0.83, 0.83, 0.87, 0.90, 0.85, 0.84, 0.78, 0.71, 0.82, 0.88, 0.86, 0.82, 0.85, 0.94, 0.87, 0.79, 0.83, 0.87, 0.84, 0.83, 0.80, 0.91, 0.85, 0.76, 0.81, 0.86, 0.90, 0.62, 0.80, 0.89, 0.85, 0.84, 0.82, 0.80, 0.86],
    [0.83, 0.87, 0.90, 0.84, 0.80, 0.77, 0.87, 0.83, 0.85, 0.89, 0.78, 0.82, 0.92, 0.86, 0.81, 0.75, 0.88, 0.84, 0.66, 0.80, 0.86, 0.90, 0.80, 0.84, 0.91, 0.85, 0.84, 0.80, 0.77, 0.83, 0.89, 0.86, 0.82, 0.79, 0.86, 0.88, 0.90, 0.85, 0.83, 0.79, 0.75, 0.82, 0.88, 0.84, 0.85, 0.81, 0.61, 0.79, 0.87, 0.83, 0.92, 0.86, 0.81, 0.78, 0.84, 0.88, 0.89, 0.84, 0.79, 0.82, 0.86, 0.90, 0.91, 0.85, 0.83, 0.80, 0.78, 0.84, 0.88, 0.83, 0.85, 0.89, 0.93, 0.86, 0.80, 0.77, 0.87, 0.84, 0.84, 0.88, 0.76, 0.81, 0.90, 0.85, 0.82, 0.79, 0.86, 0.90, 0.89, 0.84, 0.81, 0.78, 0.87, 0.85, 0.92, 0.84, 0.79, 0.83, 0.85, 0.88]]

psi_z_trace = [
    [0.28, 0.22, 0.17, 0.26, 0.33, 0.27, 0.22, 0.31, 0.41, 0.25, 0.19, 0.24, 0.30, 0.35, 0.26, 0.20, 0.37, 0.29, 0.05, 0.18, 0.24, 0.32, 0.57, 0.30, 0.21, 0.27, 0.34, 0.23, 0.16, 0.22, 0.29, 0.36, 0.43, 0.28, 0.23, 0.19, 0.31, 0.25, 0.18, 0.24, 0.27, 0.33, 0.36, 0.26, 0.54, 0.31, 0.20, 0.25, 0.55, 0.29, 0.25, 0.20, 0.15, 0.23, 0.32, 0.27, 0.22, 0.30, 0.53, 0.28, 0.04, 0.17, 0.28, 0.34, 0.38, 0.26, 0.19, 0.23, 0.26, 0.31, 0.33, 0.24, 0.17, 0.27, 0.42, 0.30, 0.24, 0.20, 0.30, 0.35, 0.14, 0.22, 0.35, 0.29, 0.27, 0.23, 0.21, 0.28, 0.53, 0.32, 0.25, 0.21, 0.18, 0.26, 0.39, 0.30, 0.23, 0.19, 0.31, 0.26],
    [0.23, 0.18, 0.05, 0.21, 0.29, 0.34, 0.38, 0.27, 0.20, 0.25, 0.27, 0.21, 0.14, 0.26, 0.33, 0.29, 0.24, 0.30, 0.65, 0.31, 0.19, 0.23, 0.31, 0.26, 0.07, 0.20, 0.26, 0.32, 0.40, 0.28, 0.22, 0.18, 0.30, 0.35, 0.17, 0.24, 0.35, 0.29, 0.25, 0.21, 0.12, 0.22, 0.28, 0.33, 0.21, 0.27, 0.37, 0.30, 0.26, 0.22, 0.18, 0.25, 0.48, 0.30, 0.24, 0.19, 0.31, 0.27, 0.15, 0.23, 0.27, 0.32, 0.34, 0.25, 0.20, 0.28, 0.29, 0.23, 0.13, 0.21, 0.23, 0.30, 0.39, 0.29, 0.26, 0.21, 0.19, 0.27, 0.32, 0.24, 0.06, 0.19, 0.28, 0.35, 0.44, 0.29, 0.22, 0.26, 0.30, 0.24, 0.17, 0.25, 0.36, 0.31, 0.25, 0.19, 0.20, 0.27, 0.29, 0.23],
    [0.25, 0.20, 0.31, 0.27, 0.52, 0.33, 0.19, 0.24, 0.28, 0.21, 0.36, 0.29, 0.22, 0.17, 0.13, 0.23, 0.30, 0.34, 0.24, 0.29, 0.41, 0.30, 0.27, 0.22, 0.18, 0.25, 0.33, 0.28, 0.21, 0.30, 0.46, 0.31, 0.26, 0.20, 0.15, 0.24, 0.29, 0.33, 0.23, 0.19, 0.35, 0.28, 0.11, 0.22, 0.27, 0.31, 0.32, 0.26, 0.20, 0.24, 0.38, 0.29, 0.24, 0.19, 0.29, 0.34, 0.16, 0.23, 0.34, 0.27, 0.26, 0.30, 0.21, 0.25, 0.31, 0.22, 0.25, 0.29, 0.18, 0.28, 0.55, 0.32, 0.23, 0.19, 0.28, 0.33, 0.14, 0.21, 0.32, 0.27, 0.27, 0.22, 0.50, 0.30, 0.20, 0.25, 0.30, 0.34, 0.24, 0.20, 0.17, 0.26, 0.35, 0.29, 0.26, 0.21, 0.22, 0.27, 0.28, 0.24],
    [0.30, 0.25, 0.22, 0.28, 0.26, 0.33, 0.44, 0.29, 0.18, 0.23, 0.29, 0.35, 0.34, 0.26, 0.21, 0.27, 0.47, 0.31, 0.27, 0.22, 0.16, 0.24, 0.32, 0.28, 0.25, 0.30, 0.20, 0.23, 0.38, 0.30, 0.28, 0.21, 0.23, 0.29, 0.35, 0.26, 0.12, 0.20, 0.26, 0.33, 0.31, 0.25, 0.24, 0.29, 0.19, 0.24, 0.29, 0.34, 0.36, 0.27, 0.22, 0.28, 0.50, 0.31, 0.27, 0.22, 0.18, 0.26, 0.33, 0.29, 0.25, 0.21, 0.29, 0.34, 0.21, 0.27, 0.40, 0.30, 0.26, 0.20, 0.15, 0.23, 0.30, 0.35, 0.23, 0.28, 0.34, 0.26, 0.19, 0.24, 0.28, 0.33, 0.32, 0.25, 0.24, 0.18, 0.11, 0.22, 0.29, 0.32, 0.37, 0.28, 0.22, 0.26, 0.27, 0.33, 0.31, 0.24, 0.25, 0.29]]

rho_A_trace = [
    [0.93, 0.91, 0.76, 0.88, 0.95, 0.93, 0.92, 0.96, 0.97, 0.94, 0.90, 0.92, 0.94, 0.97, 0.96, 0.93, 0.81, 0.90, 0.93, 0.95, 0.98, 0.94, 0.91, 0.89, 0.95, 0.93, 0.88, 0.92, 0.96, 0.94, 0.93, 0.97, 0.90, 0.93, 0.97, 0.95, 0.94, 0.91, 0.86, 0.92, 0.95, 0.97, 0.92, 0.94, 0.98, 0.95, 0.89, 0.92, 0.94, 0.97, 0.96, 0.93, 0.84, 0.90, 0.93, 0.95, 0.97, 0.94, 0.91, 0.93, 0.95, 0.92, 0.88, 0.94, 0.80, 0.91, 0.96, 0.94, 0.93, 0.96, 0.90, 0.93, 0.97, 0.95, 0.94, 0.92, 0.87, 0.93, 0.82, 0.90, 0.95, 0.93, 0.98, 0.95, 0.92, 0.90, 0.96, 0.94, 0.89, 0.93, 0.94, 0.96, 0.97, 0.94, 0.81, 0.89, 0.93, 0.96, 0.995, 0.95],
    [0.95, 0.93, 0.91, 0.77, 0.88, 0.94, 0.92, 0.90, 0.93, 0.96, 0.94, 0.92, 0.89, 0.85, 0.91, 0.97, 0.95, 0.93, 0.90, 0.89, 0.92, 0.95, 0.97, 0.91, 0.93, 0.98, 0.95, 0.94, 0.91, 0.87, 0.92, 0.96, 0.94, 0.92, 0.90, 0.95, 0.93, 0.90, 0.94, 0.97, 0.95, 0.93, 0.91, 0.86, 0.92, 0.96, 0.95, 0.94, 0.92, 0.91, 0.94, 0.98, 0.96, 0.93, 0.90, 0.89, 0.93, 0.95, 0.94, 0.92, 0.90, 0.97, 0.95, 0.94, 0.92, 0.83, 0.89, 0.96, 0.94, 0.91, 0.93, 0.95, 0.92, 0.93, 0.96, 0.98, 0.94, 0.90, 0.92, 0.94, 0.95, 0.96, 0.93, 0.92, 0.90, 0.87, 0.93, 0.97, 0.95, 0.93, 0.91, 0.90, 0.94, 0.95, 0.92, 0.94, 0.96, 0.93, 0.91, 0.94],
    [0.92, 0.95, 0.99, 0.94, 0.93, 0.91, 0.88, 0.93, 0.96, 0.94, 0.94, 0.92, 0.91, 0.95, 0.97, 0.93, 0.93, 0.96, 0.95, 0.92, 0.90, 0.93, 0.94, 0.96, 0.97, 0.94, 0.92, 0.90, 0.86, 0.92, 0.95, 0.97, 0.93, 0.91, 0.98, 0.94, 0.79, 0.90, 0.94, 0.96, 0.96, 0.93, 0.91, 0.94, 0.95, 0.92, 0.93, 0.95, 0.80, 0.91, 0.97, 0.94, 0.94, 0.92, 0.90, 0.93, 0.96, 0.94, 0.92, 0.95, 0.98, 0.94, 0.93, 0.91, 0.95, 0.97, 0.89, 0.92, 0.94, 0.96, 0.84, 0.91, 0.96, 0.93, 0.92, 0.95, 0.97, 0.94, 0.94, 0.91, 0.91, 0.93, 0.95, 0.97, 0.93, 0.92, 0.98, 0.94, 0.90, 0.92, 0.96, 0.94, 0.83, 0.90, 0.94, 0.96, 0.97, 0.93, 0.93, 0.95],
    [0.96, 0.93, 0.92, 0.95, 0.94, 0.91, 0.97, 0.94, 0.87, 0.92, 0.95, 0.97, 0.93, 0.90, 0.91, 0.94, 0.96, 0.93, 0.84, 0.91, 0.94, 0.96, 0.97, 0.94, 0.92, 0.90, 0.95, 0.93, 0.90, 0.94, 0.98, 0.95, 0.93, 0.91, 0.89, 0.93, 0.96, 0.94, 0.94, 0.92, 0.92, 0.95, 0.97, 0.93, 0.85, 0.91, 0.95, 0.97, 0.93, 0.94, 0.96, 0.92, 0.91, 0.95, 0.94, 0.91, 0.98, 0.94, 0.88, 0.92, 0.95, 0.93, 0.93, 0.96, 0.97, 0.94, 0.92, 0.90, 0.94, 0.96, 0.96, 0.93, 0.90, 0.92, 0.95, 0.97, 0.93, 0.91, 0.97, 0.94, 0.91, 0.93, 0.94, 0.96, 0.96, 0.93, 0.92, 0.90, 0.85, 0.91, 0.95, 0.93, 0.98, 0.95, 0.93, 0.91, 0.90, 0.93, 0.94, 0.96]]

rho_I_trace = [
    [0.80, 0.76, 0.72, 0.81, 0.86, 0.78, 0.69, 0.75, 0.83, 0.88, 0.77, 0.71, 0.90, 0.82, 0.96, 0.79, 0.75, 0.70, 0.51, 0.73, 0.84, 0.80, 0.48, 0.74, 0.79, 0.85, 0.88, 0.78, 0.73, 0.81, 0.82, 0.76, 0.70, 0.79, 0.51, 0.72, 0.86, 0.81, 0.78, 0.84, 0.92, 0.77, 0.66, 0.75, 0.81, 0.86, 0.87, 0.79, 0.74, 0.70, 0.83, 0.78, 0.90, 0.82, 0.76, 0.71, 0.52, 0.74, 0.85, 0.80, 0.79, 0.84, 0.68, 0.75, 0.88, 0.81, 0.81, 0.76, 0.74, 0.83, 0.86, 0.79, 0.72, 0.78, 0.91, 0.84, 0.80, 0.73, 0.64, 0.76, 0.84, 0.80, 0.77, 0.82, 0.89, 0.78, 0.96, 0.81, 0.75, 0.70, 0.82, 0.86, 0.70, 0.77, 0.44, 0.72, 0.93, 0.84, 0.79, 0.85],
    [0.74, 0.79, 0.83, 0.76, 0.78, 0.84, 0.89, 0.80, 0.71, 0.77, 0.80, 0.73, 0.85, 0.81, 0.68, 0.76, 0.82, 0.87, 0.76, 0.72, 0.87, 0.80, 0.73, 0.78, 0.81, 0.85, 0.66, 0.74, 0.50, 0.73, 0.84, 0.79, 0.79, 0.83, 0.90, 0.81, 0.72, 0.77, 0.83, 0.86, 0.77, 0.71, 0.86, 0.80, 0.70, 0.76, 0.93, 0.84, 0.80, 0.74, 0.75, 0.81, 0.84, 0.78, 0.88, 0.82, 0.78, 0.73, 0.69, 0.77, 0.82, 0.87, 0.86, 0.80, 0.76, 0.72, 0.81, 0.78, 0.52, 0.75, 0.85, 0.81, 0.79, 0.84, 0.73, 0.77, 0.87, 0.82, 0.80, 0.74, 0.84, 0.79, 0.71, 0.76, 0.78, 0.83, 0.89, 0.81, 0.82, 0.76, 0.67, 0.75, 0.85, 0.80, 0.79, 0.83, 0.74, 0.70, 0.83, 0.78],
    [0.82, 0.78, 0.77, 0.74, 0.71, 0.79, 0.84, 0.80, 0.79, 0.85, 0.88, 0.79, 0.74, 0.72, 0.81, 0.77, 0.86, 0.82, 0.70, 0.76, 0.80, 0.84, 0.85, 0.79, 0.77, 0.81, 0.83, 0.87, 0.89, 0.80, 0.75, 0.78, 0.82, 0.74, 0.79, 0.84, 0.67, 0.75, 0.84, 0.81, 0.78, 0.83, 0.73, 0.79, 0.87, 0.82, 0.81, 0.75, 0.76, 0.83, 0.90, 0.84, 0.80, 0.77, 0.83, 0.79, 0.74, 0.81, 0.86, 0.80, 0.71, 0.77, 0.82, 0.86, 0.78, 0.73, 0.88, 0.82, 0.80, 0.76, 0.75, 0.81, 0.84, 0.78, 0.69, 0.76, 0.81, 0.85, 0.86, 0.80, 0.79, 0.75, 0.83, 0.87, 0.76, 0.80, 0.72, 0.78, 0.85, 0.81, 0.80, 0.74, 0.88, 0.83, 0.77, 0.80, 0.82, 0.86, 0.78, 0.74],
    [0.78, 0.82, 0.85, 0.79, 0.80, 0.74, 0.75, 0.81, 0.88, 0.80, 0.73, 0.77, 0.82, 0.86, 0.79, 0.74, 0.70, 0.78, 0.86, 0.81, 0.78, 0.74, 0.83, 0.79, 0.68, 0.75, 0.81, 0.85, 0.87, 0.80, 0.79, 0.83, 0.74, 0.77, 0.84, 0.80, 0.80, 0.86, 0.71, 0.76, 0.85, 0.80, 0.82, 0.78, 0.77, 0.83, 0.72, 0.77, 0.86, 0.81, 0.79, 0.74, 0.83, 0.87, 0.75, 0.80, 0.89, 0.83, 0.80, 0.75, 0.76, 0.81, 0.84, 0.79, 0.81, 0.85, 0.70, 0.76, 0.87, 0.81, 0.78, 0.73, 0.82, 0.79, 0.86, 0.82, 0.74, 0.78, 0.80, 0.85, 0.83, 0.77, 0.88, 0.82, 0.79, 0.74, 0.75, 0.81, 0.84, 0.79, 0.81, 0.86, 0.72, 0.77, 0.86, 0.82, 0.80, 0.75, 0.77, 0.83]]

rho_Theta_trace = [
    [0.958, 0.966, 0.968, 0.955, 0.991, 0.962, 0.923, 0.951, 0.965, 0.972, 0.952, 0.960, 0.971, 0.963, 0.960, 0.968, 0.947, 0.956, 0.969, 0.975, 0.957, 0.950, 0.975, 0.963, 0.992, 0.966, 0.955, 0.947, 0.964, 0.970, 0.949, 0.958, 0.970, 0.976, 0.961, 0.954, 0.978, 0.965, 0.953, 0.961, 0.966, 0.971, 0.958, 0.949, 0.924, 0.955, 0.972, 0.964, 0.962, 0.957, 0.950, 0.961, 0.968, 0.973, 0.959, 0.952, 0.974, 0.963, 0.946, 0.958, 0.963, 0.969, 0.971, 0.960, 0.956, 0.950, 0.967, 0.973, 0.952, 0.960, 0.976, 0.962, 0.927, 0.951, 0.963, 0.970, 0.993, 0.964, 0.957, 0.948, 0.969, 0.974, 0.948, 0.958, 0.965, 0.971, 0.973, 0.961, 0.955, 0.966, 0.991, 0.959, 0.928, 0.952, 0.966, 0.973, 0.959, 0.953, 0.970, 0.964],
    [0.965, 0.958, 0.951, 0.962, 0.972, 0.966, 0.960, 0.953, 0.944, 0.957, 0.968, 0.974, 0.957, 0.963, 0.975, 0.967, 0.962, 0.955, 0.949, 0.960, 0.970, 0.964, 0.958, 0.945, 0.923, 0.950, 0.985, 0.968, 0.961, 0.956, 0.973, 0.965, 0.954, 0.948, 0.966, 0.971, 0.959, 0.962, 0.977, 0.968, 0.950, 0.957, 0.964, 0.970, 0.971, 0.962, 0.956, 0.949, 0.990, 0.967, 0.963, 0.955, 0.947, 0.958, 0.969, 0.975, 0.960, 0.952, 0.974, 0.965, 0.953, 0.959, 0.966, 0.972, 0.958, 0.951, 0.942, 0.956, 0.970, 0.964, 0.962, 0.968, 0.975, 0.963, 0.955, 0.949, 0.967, 0.973, 0.951, 0.958, 0.963, 0.969, 0.979, 0.966, 0.957, 0.950, 0.969, 0.962, 0.948, 0.956, 0.964, 0.971, 0.972, 0.961, 0.960, 0.954, 0.953, 0.962, 0.967, 0.973],
    [0.960, 0.967, 0.973, 0.962, 0.955, 0.951, 0.966, 0.971, 0.978, 0.966, 0.958, 0.953, 0.963, 0.957, 0.943, 0.956, 0.969, 0.974, 0.961, 0.966, 0.954, 0.960, 0.972, 0.968, 0.964, 0.955, 0.957, 0.966, 0.981, 0.970, 0.962, 0.958, 0.968, 0.973, 0.951, 0.959, 0.965, 0.970, 0.959, 0.952, 0.974, 0.966, 0.956, 0.962, 0.967, 0.972, 0.962, 0.955, 0.952, 0.961, 0.970, 0.965, 0.963, 0.969, 0.977, 0.964, 0.958, 0.950, 0.965, 0.971, 0.960, 0.967, 0.948, 0.957, 0.971, 0.966, 0.963, 0.955, 0.957, 0.964, 0.968, 0.973, 0.961, 0.953, 0.975, 0.967, 0.954, 0.960, 0.966, 0.972, 0.962, 0.956, 0.958, 0.965, 0.973, 0.968, 0.949, 0.957, 0.967, 0.974, 0.963, 0.958, 0.970, 0.964, 0.956, 0.951, 0.965, 0.970, 0.961, 0.957],
    [0.962, 0.969, 0.957, 0.951, 0.968, 0.974, 0.950, 0.958, 0.973, 0.966, 0.961, 0.954, 0.955, 0.963, 0.967, 0.971, 0.976, 0.964, 0.959, 0.952, 0.964, 0.970, 0.948, 0.956, 0.970, 0.975, 0.962, 0.957, 0.958, 0.965, 0.966, 0.960, 0.953, 0.961, 0.971, 0.966, 0.963, 0.955, 0.957, 0.964, 0.969, 0.974, 0.945, 0.955, 0.965, 0.971, 0.960, 0.953, 0.974, 0.967, 0.956, 0.962, 0.968, 0.959, 0.961, 0.970, 0.952, 0.958, 0.970, 0.965, 0.964, 0.957, 0.958, 0.966, 0.966, 0.972, 0.973, 0.962, 0.950, 0.958, 0.963, 0.969, 0.969, 0.963, 0.957, 0.951, 0.965, 0.972, 0.960, 0.955, 0.947, 0.959, 0.968, 0.973, 0.962, 0.956, 0.975, 0.967, 0.958, 0.952, 0.964, 0.970, 0.956, 0.962, 0.971, 0.966, 0.961, 0.955, 0.966, 0.970]]

rho_beta_trace = [
    [0.62, 0.55, 0.35, 0.49, 0.58, 0.66, 0.86, 0.64, 0.54, 0.61, 0.67, 0.57, 0.49, 0.55, 0.63, 0.70, 0.71, 0.59, 0.52, 0.57, 0.60, 0.66, 0.75, 0.61, 0.47, 0.55, 0.64, 0.69, 0.56, 0.51, 0.69, 0.62, 0.51, 0.58, 0.61, 0.67, 0.73, 0.60, 0.45, 0.53, 0.66, 0.71, 0.58, 0.50, 0.36, 0.52, 0.68, 0.62, 0.55, 0.60, 0.72, 0.64, 0.48, 0.56, 0.63, 0.68, 0.59, 0.53, 0.44, 0.58, 0.86, 0.65, 0.57, 0.52, 0.65, 0.71, 0.50, 0.57, 0.70, 0.62, 0.35, 0.54, 0.62, 0.68, 0.54, 0.59, 0.74, 0.63, 0.58, 0.52, 0.66, 0.61, 0.47, 0.56, 0.85, 0.67, 0.60, 0.55, 0.52, 0.61, 0.85, 0.64, 0.63, 0.55, 0.34, 0.53, 0.69, 0.63, 0.57, 0.64],
    [0.66, 0.60, 0.55, 0.63, 0.71, 0.59, 0.48, 0.57, 0.63, 0.69, 0.58, 0.52, 0.74, 0.65, 0.52, 0.60, 0.67, 0.56, 0.44, 0.55, 0.61, 0.68, 0.56, 0.63, 0.70, 0.62, 0.89, 0.64, 0.53, 0.58, 0.65, 0.71, 0.59, 0.51, 0.86, 0.63, 0.50, 0.57, 0.62, 0.67, 0.68, 0.60, 0.54, 0.49, 0.73, 0.62, 0.47, 0.56, 0.64, 0.70, 0.57, 0.53, 0.69, 0.61, 0.42, 0.55, 0.60, 0.66, 0.76, 0.63, 0.55, 0.50, 0.66, 0.72, 0.51, 0.58, 0.63, 0.69, 0.58, 0.52, 0.72, 0.64, 0.46, 0.55, 0.61, 0.68, 0.67, 0.59, 0.86, 0.65, 0.53, 0.60, 0.64, 0.57, 0.31, 0.52, 0.70, 0.63, 0.57, 0.66, 0.62, 0.55, 0.49, 0.58, 0.68, 0.61, 0.59, 0.66, 0.74, 0.62],
    [0.57, 0.61, 0.64, 0.56, 0.50, 0.58, 0.62, 0.67, 0.69, 0.60, 0.55, 0.51, 0.60, 0.65, 0.45, 0.54, 0.66, 0.62, 0.58, 0.64, 0.73, 0.63, 0.53, 0.57, 0.61, 0.66, 0.57, 0.52, 0.67, 0.61, 0.48, 0.56, 0.63, 0.68, 0.59, 0.54, 0.55, 0.62, 0.70, 0.64, 0.60, 0.55, 0.64, 0.69, 0.52, 0.57, 0.58, 0.63, 0.68, 0.60, 0.46, 0.55, 0.62, 0.66, 0.57, 0.61, 0.65, 0.58, 0.54, 0.60, 0.61, 0.66, 0.72, 0.62, 0.56, 0.51, 0.60, 0.65, 0.49, 0.57, 0.66, 0.61, 0.59, 0.55, 0.63, 0.67, 0.53, 0.59, 0.68, 0.62, 0.58, 0.54, 0.62, 0.66, 0.55, 0.60, 0.64, 0.59, 0.71, 0.63, 0.51, 0.58, 0.60, 0.65, 0.57, 0.52, 0.65, 0.60, 0.56, 0.62],
    [0.59, 0.63, 0.66, 0.58, 0.53, 0.61, 0.70, 0.64, 0.57, 0.52, 0.47, 0.56, 0.64, 0.69, 0.61, 0.57, 0.55, 0.62, 0.68, 0.59, 0.50, 0.56, 0.63, 0.67, 0.59, 0.54, 0.72, 0.64, 0.54, 0.60, 0.60, 0.66, 0.66, 0.58, 0.43, 0.55, 0.62, 0.67, 0.57, 0.52, 0.69, 0.63, 0.52, 0.58, 0.65, 0.71, 0.60, 0.55, 0.77, 0.64, 0.56, 0.61, 0.63, 0.58, 0.51, 0.57, 0.67, 0.62, 0.58, 0.65, 0.62, 0.56, 0.47, 0.59, 0.70, 0.64, 0.55, 0.60, 0.64, 0.58, 0.60, 0.66, 0.57, 0.51, 0.73, 0.64, 0.52, 0.58, 0.63, 0.68, 0.59, 0.55, 0.68, 0.62, 0.54, 0.59, 0.61, 0.67, 0.66, 0.60, 0.49, 0.56, 0.64, 0.69, 0.58, 0.53, 0.75, 0.65, 0.60, 0.57]]

rho_psi_trace = [
    [0.80, 0.74, 0.68, 0.77, 0.84, 0.79, 0.97, 0.82, 0.72, 0.78, 0.95, 0.83, 0.77, 0.71, 0.63, 0.74, 0.86, 0.81, 0.74, 0.69, 0.81, 0.87, 0.66, 0.75, 0.89, 0.80, 0.76, 0.84, 0.70, 0.76, 0.83, 0.78, 0.59, 0.72, 0.79, 0.85, 0.87, 0.78, 0.73, 0.80, 0.82, 0.74, 0.67, 0.76, 0.78, 0.84, 0.91, 0.79, 0.47, 0.68, 0.80, 0.86, 0.75, 0.71, 0.85, 0.79, 0.69, 0.76, 0.94, 0.81, 0.77, 0.72, 0.62, 0.75, 0.83, 0.78, 0.79, 0.85, 0.88, 0.77, 0.71, 0.79, 0.81, 0.74, 0.74, 0.80, 0.86, 0.78, 0.65, 0.73, 0.80, 0.88, 0.97, 0.76, 0.34, 0.66, 0.84, 0.79, 0.76, 0.82, 0.96, 0.75, 0.41, 0.68, 0.82, 0.78, 0.73, 0.81, 0.87, 0.77],
    [0.42, 0.70, 0.81, 0.76, 0.73, 0.80, 0.86, 0.79, 0.77, 0.72, 0.69, 0.78, 0.83, 0.75, 0.90, 0.81, 0.75, 0.68, 0.39, 0.71, 0.95, 0.82, 0.78, 0.74, 0.70, 0.77, 0.84, 0.79, 0.80, 0.73, 0.64, 0.75, 0.79, 0.85, 0.88, 0.80, 0.74, 0.69, 0.82, 0.77, 0.68, 0.75, 0.85, 0.80, 0.77, 0.71, 0.72, 0.79, 0.81, 0.86, 0.90, 0.78, 0.66, 0.74, 0.79, 0.84, 0.83, 0.77, 0.75, 0.70, 0.87, 0.80, 0.71, 0.77, 0.78, 0.83, 0.84, 0.76, 0.60, 0.72, 0.80, 0.85, 0.76, 0.81, 0.89, 0.79, 0.73, 0.68, 0.82, 0.78, 0.92, 0.81, 0.70, 0.75, 0.79, 0.84, 0.85, 0.77, 0.74, 0.80, 0.81, 0.72, 0.44, 0.70, 0.86, 0.81, 0.77, 0.83, 0.80, 0.75],
    [0.78, 0.82, 0.85, 0.77, 0.71, 0.76, 0.79, 0.84, 0.66, 0.75, 0.82, 0.78, 0.88, 0.80, 0.74, 0.70, 0.80, 0.85, 0.77, 0.73, 0.62, 0.74, 0.84, 0.80, 0.79, 0.83, 0.73, 0.77, 0.87, 0.81, 0.81, 0.75, 0.76, 0.82, 0.69, 0.76, 0.83, 0.87, 0.78, 0.73, 0.85, 0.79, 0.72, 0.78, 0.80, 0.75, 0.64, 0.73, 0.82, 0.86, 0.76, 0.81, 0.89, 0.80, 0.79, 0.74, 0.74, 0.79, 0.83, 0.77, 0.70, 0.76, 0.86, 0.81, 0.78, 0.73, 0.81, 0.85, 0.75, 0.79, 0.88, 0.80, 0.67, 0.74, 0.80, 0.85, 0.84, 0.78, 0.77, 0.71, 0.58, 0.72, 0.83, 0.80, 0.79, 0.75, 0.72, 0.78, 0.86, 0.81, 0.80, 0.76, 0.75, 0.82, 0.91, 0.81, 0.78, 0.74, 0.82, 0.79],
    [0.75, 0.81, 0.79, 0.74, 0.86, 0.80, 0.70, 0.76, 0.83, 0.79, 0.77, 0.82, 0.72, 0.78, 0.85, 0.79, 0.67, 0.74, 0.80, 0.84, 0.76, 0.71, 0.88, 0.81, 0.73, 0.77, 0.81, 0.76, 0.78, 0.83, 0.55, 0.70, 0.84, 0.79, 0.76, 0.81, 0.80, 0.74, 0.71, 0.77, 0.87, 0.82, 0.79, 0.75, 0.74, 0.80, 0.82, 0.77, 0.77, 0.83, 0.69, 0.75, 0.84, 0.79, 0.80, 0.86, 0.91, 0.81, 0.73, 0.78, 0.79, 0.75, 0.83, 0.80, 0.68, 0.74, 0.81, 0.85, 0.86, 0.79, 0.76, 0.72, 0.80, 0.84, 0.72, 0.77, 0.85, 0.80, 0.79, 0.74, 0.87, 0.82, 0.74, 0.79, 0.81, 0.76, 0.63, 0.72, 0.78, 0.83, 0.83, 0.77, 0.76, 0.81, 0.80, 0.75, 0.85, 0.79, 0.71, 0.77]]

sigma_L_trace = [
    [1.88, 1.85, 1.84, 1.90, 1.99, 1.87, 1.86, 1.82, 1.91, 1.88, 1.83, 1.89, 1.65, 1.84, 1.90, 1.92, 1.85, 1.80, 1.93, 1.87, 1.87, 1.91, 1.82, 1.86, 1.89, 1.84, 1.74, 1.86, 1.92, 1.88, 1.86, 1.90, 1.66, 1.83, 1.90, 1.86, 1.84, 1.89, 1.95, 1.87, 1.88, 1.84, 1.81, 1.87, 1.91, 1.85, 1.86, 1.90, 1.89, 1.83, 1.79, 1.86, 1.93, 1.88, 1.87, 1.82, 1.84, 1.89, 1.90, 1.85, 2.00, 1.88, 1.85, 1.80, 1.91, 1.87, 1.88, 1.92, 1.82, 1.86, 1.94, 1.89, 1.53, 1.75, 1.61, 1.84, 1.90, 1.87, 1.86, 1.91, 1.92, 1.86, 1.84, 1.88, 1.89, 1.83, 1.81, 1.87, 1.91, 1.86, 1.62, 1.80, 1.87, 1.91, 1.93, 1.88, 2.00, 1.89, 1.88, 1.85],
    [1.90, 1.87, 1.86, 1.83, 1.82, 1.88, 1.93, 1.89, 1.88, 1.84, 1.85, 1.90, 1.91, 1.86, 1.79, 1.84, 1.89, 1.92, 1.84, 1.87, 1.94, 1.89, 1.87, 1.83, 1.80, 1.86, 1.92, 1.88, 1.86, 1.83, 1.89, 1.91, 1.83, 1.87, 1.96, 1.90, 1.85, 1.81, 1.88, 1.85, 1.91, 1.88, 1.82, 1.86, 1.75, 1.84, 1.90, 1.93, 1.87, 1.85, 1.84, 1.88, 1.92, 1.86, 1.78, 1.85, 1.89, 1.91, 1.85, 1.82, 1.93, 1.88, 1.86, 1.90, 1.81, 1.85, 1.90, 1.87, 1.88, 1.84, 1.84, 1.89, 1.91, 1.86, 1.87, 1.83, 1.50, 1.78, 1.92, 1.88, 1.67, 1.83, 1.89, 1.92, 1.85, 1.81, 1.93, 1.89, 1.80, 1.86, 1.88, 1.84, 1.64, 1.82, 1.90, 1.87, 1.86, 1.90, 1.91, 1.87],
    [1.85, 1.89, 1.92, 1.86, 1.87, 1.84, 1.81, 1.88, 1.90, 1.93, 1.88, 1.85, 1.84, 1.89, 1.94, 1.87, 1.86, 1.82, 1.77, 1.85, 1.89, 1.92, 1.91, 1.87, 1.85, 1.89, 1.88, 1.84, 1.97, 1.90, 1.83, 1.87, 1.99, 1.89, 1.87, 1.84, 2.00, 1.88, 1.84, 1.90, 1.90, 1.86, 1.86, 1.91, 1.92, 1.87, 1.80, 1.85, 1.88, 1.91, 1.95, 1.88, 1.85, 1.82, 1.74, 1.84, 1.91, 1.88, 1.87, 1.90, 1.83, 1.86, 1.89, 1.93, 1.94, 1.88, 1.86, 1.84, 1.90, 1.87, 2.01, 1.89, 1.85, 1.82, 1.88, 1.91, 1.92, 1.87, 1.84, 1.88, 1.89, 1.85, 1.86, 1.90, 1.78, 1.84, 1.91, 1.88, 1.87, 1.85, 1.93, 1.89, 2.01, 1.87, 1.85, 1.90, 1.90, 1.86, 1.83, 1.88],
    [1.87, 1.90, 1.83, 1.86, 1.90, 1.88, 1.92, 1.87, 1.85, 1.82, 1.89, 1.91, 1.86, 1.84, 1.91, 1.88, 1.82, 1.86, 1.88, 1.92, 1.84, 1.87, 1.93, 1.89, 1.87, 1.83, 1.90, 1.88, 1.85, 1.89, 1.81, 1.85, 1.89, 1.92, 1.86, 1.84, 1.92, 1.89, 1.88, 1.85, 1.83, 1.87, 1.90, 1.93, 1.87, 1.84, 1.85, 1.88, 1.94, 1.90, 1.86, 1.83, 1.80, 1.85, 1.89, 1.92, 1.91, 1.87, 1.84, 1.86, 1.88, 1.91, 1.92, 1.87, 1.86, 1.82, 1.73, 1.81, 1.90, 1.88, 1.87, 1.84, 1.85, 1.89, 1.89, 1.86, 1.93, 1.88, 1.84, 1.87, 1.88, 1.92, 1.91, 1.87, 1.86, 1.83, 1.82, 1.87, 1.90, 1.92, 1.87, 1.85, 1.85, 1.89, 1.92, 1.88, 1.88, 1.84, 1.86, 1.90]]

# --- Collect per-row inputs ---
kde_grids = [theta_grid, alpha_grid, beta_grid, delta_grid, g_z_grid, gamma_I_grid, phi_H_grid,
             psi_z_grid, rho_A_grid, rho_I_grid, rho_Theta_grid, rho_beta_grid, rho_psi_grid, sigma_L_grid]
kde_values = [theta_kde, alpha_kde, beta_kde, delta_kde, g_z_kde, gamma_I_kde, phi_H_kde,
              psi_z_kde, rho_A_kde, rho_I_kde, rho_Theta_kde, rho_beta_kde, rho_psi_kde, sigma_L_kde]
traces = [theta_trace, alpha_trace, beta_trace, delta_trace, g_z_trace, gamma_I_trace, phi_H_trace,
          psi_z_trace, rho_A_trace, rho_I_trace, rho_Theta_trace, rho_beta_trace, rho_psi_trace, sigma_L_trace]

palette = sns.color_palette("tab10")
TICK_FS = 12.5
LABEL_FS = 15


def bw_factor(x, w):
    # kernel width ~0.6 grid steps, expressed relative to the weighted spread
    w = w / w.sum()
    m = np.sum(w * x)
    var = np.sum(w * (x - m) ** 2) / (1 - np.sum(w ** 2))
    return 0.6 * (x[1] - x[0]) / np.sqrt(var)


fig, axes = plt.subplots(len(param_names), 2, figsize=(40.48, 28.48), dpi=100)
fig.subplots_adjust(left=0.0089, right=0.9965, top=0.9951, bottom=0.0263,
                    hspace=0.568, wspace=0.0704)

for i, name in enumerate(param_names):
    color = palette[i % 10]
    ax_kde, ax_tr = axes[i]

    # --- density per chain ---
    grid = np.asarray(kde_grids[i], float)
    for chain, dens in enumerate(kde_values[i]):
        w = np.asarray(dens, float)
        nz = np.flatnonzero(w)
        xs, ws = grid[nz[0]:nz[-1] + 1], w[nz[0]:nz[-1] + 1]
        sns.kdeplot(x=xs, weights=ws, bw_method=bw_factor(xs, ws), cut=0, ax=ax_kde,
                    color=color, linestyle=chain_styles[chain], linewidth=2.2)
    top = max(line.get_ydata().max() for line in ax_kde.lines)
    ax_kde.set_ylim(-0.05 * top, 1.05 * top)
    ax_kde.set_yticks([])
    ax_kde.set_ylabel("")
    ax_kde.set_xlabel(name, fontsize=LABEL_FS)
    ax_kde.xaxis.set_major_locator(MaxNLocator(nbins=8, steps=[1, 2, 2.5, 5, 10]))
    ax_kde.ticklabel_format(axis="x", useOffset=False)
    ax_kde.tick_params(axis="x", labelsize=TICK_FS, length=4)
    ax_kde.grid(axis="x", linestyle="--", color="0.8", linewidth=0.8)
    ax_kde.set_axisbelow(True)
    for side in ["top", "left", "right"]:
        ax_kde.spines[side].set_visible(False)
    ax_kde.spines["bottom"].set_color("0.2")
    ax_kde.spines["bottom"].set_linewidth(1.3)

    # --- trace per chain ---
    for chain, vals in enumerate(traces[i]):
        draws = np.linspace(0, 499, len(vals))
        sns.lineplot(x=draws, y=vals, ax=ax_tr, color=color, linestyle=chain_styles[chain],
                     linewidth=1.6, estimator=None)
    ax_tr.set_xticks(draw_ticks)
    ax_tr.set_yticks(trace_yticks[i])
    ax_tr.ticklabel_format(axis="y", useOffset=False)
    ax_tr.set_xlabel("Draw", fontsize=LABEL_FS)
    ax_tr.set_ylabel(name, fontsize=LABEL_FS)
    ax_tr.tick_params(axis="x", labelsize=TICK_FS, length=5)
    ax_tr.tick_params(axis="y", labelsize=TICK_FS, length=3)
    ax_tr.yaxis.grid(True, linestyle="--", color="0.6", linewidth=0.8)
    ax_tr.xaxis.grid(True, linestyle="--", color="0.8", linewidth=0.8)
    ax_tr.set_axisbelow(True)
    for side in ax_tr.spines.values():
        side.set_visible(False)

fig.savefig("out.png", dpi=100)
